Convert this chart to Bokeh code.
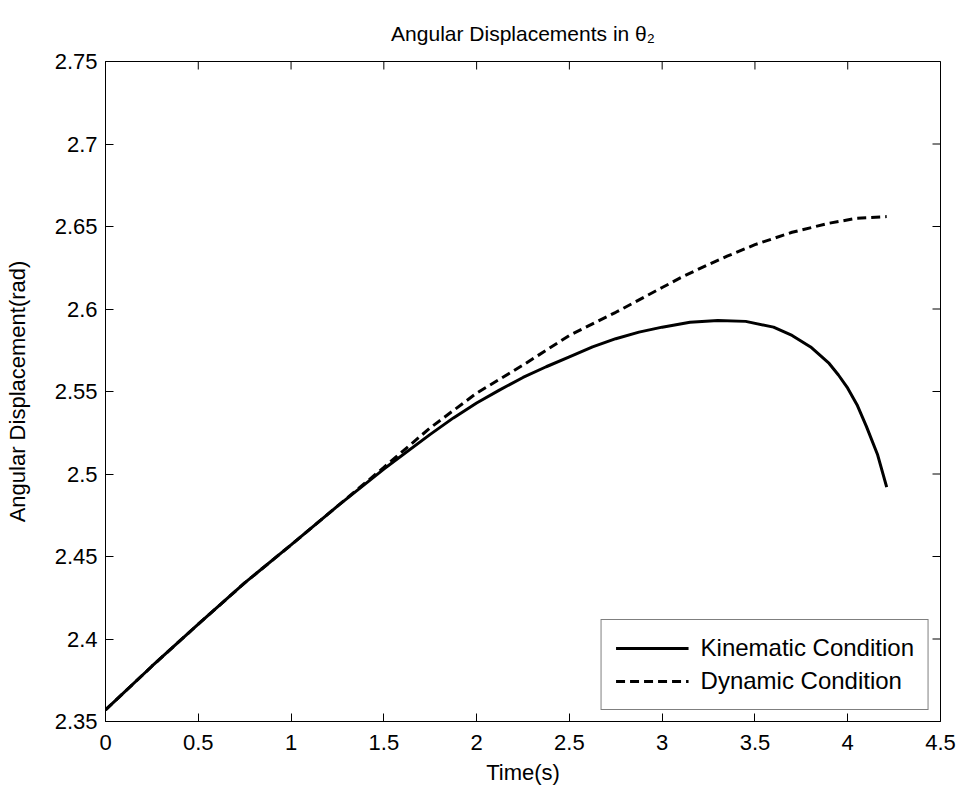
import math
from bokeh.plotting import figure
from bokeh.models import Range1d, FixedTicker, Legend, LegendItem
from bokeh.embed import file_html
from bokeh.resources import INLINE

# ---- data ----
t_kin = [0.0, 0.25, 0.5, 0.75, 1.0, 1.25, 1.5, 1.75, 1.875, 2.0, 2.125, 2.25, 2.375, 2.5, 2.625,
         2.75, 2.875, 3.0, 3.15, 3.3, 3.45, 3.6, 3.7, 3.8, 3.9, 3.95, 4.0, 4.05, 4.1, 4.16, 4.21]
kin = [2.357, 2.3835, 2.409, 2.434, 2.457, 2.4805, 2.503, 2.524, 2.534, 2.543, 2.551, 2.5585, 2.565,
       2.571, 2.577, 2.582, 2.586, 2.589, 2.592, 2.593, 2.5925, 2.589, 2.584, 2.577, 2.567, 2.560,
       2.552, 2.542, 2.529, 2.512, 2.492]

t_dyn = [0.0, 0.25, 0.5, 0.75, 1.0, 1.25, 1.5, 1.75, 2.0, 2.25, 2.5, 2.75, 3.0, 3.1,
         3.25, 3.35, 3.5, 3.7, 3.9, 4.05, 4.21]
dyn = [2.357, 2.3835, 2.409, 2.434, 2.457, 2.4805, 2.504, 2.528, 2.549, 2.566, 2.584, 2.598, 2.613,
       2.619, 2.627, 2.632, 2.639, 2.6465, 2.652, 2.655, 2.656]

x_ticks = [0, 0.5, 1, 1.5, 2, 2.5, 3, 3.5, 4, 4.5]
x_tick_labels = ["0", "0.5", "1", "1.5", "2", "2.5", "3", "3.5", "4", "4.5"]
y_ticks = [2.35, 2.4, 2.45, 2.5, 2.55, 2.6, 2.65, 2.7, 2.75]
y_tick_labels = ["2.35", "2.4", "2.45", "2.5", "2.55", "2.6", "2.65", "2.7", "2.75"]

title_text = "Angular Displacements in \u03b8\u2082"
x_label = "Time(s)"
y_label = "Angular Displacement(rad)"
series_names = ["Kinematic Condition", "Dynamic Condition"]

FONT = "Liberation Sans"
FS = "22px"
X0, X1 = 0, 4.5
Y0, Y1 = 2.35, 2.75

p = figure(width=962, height=794, output_backend="svg", toolbar_location=None,
           x_range=Range1d(X0, X1), y_range=Range1d(Y0, Y1),
           min_border_left=105, min_border_right=22, min_border_top=61, min_border_bottom=73,
           title=title_text)
p.background_fill_color = "white"
p.border_fill_color = "white"
p.outline_line_color = "black"
p.outline_line_width = 1
p.xgrid.visible = False
p.ygrid.visible = False

p.title.align = "center"
p.title.text_font = FONT
p.title.text_font_size = "21px"
p.title.text_font_style = "normal"
p.title.text_color = "black"
p.title.standoff = 34

for ax, ticks, labels in ((p.xaxis[0], x_ticks, x_tick_labels), (p.yaxis[0], y_ticks, y_tick_labels)):
    ax.ticker = FixedTicker(ticks=ticks)
    ax.major_label_overrides = {t: l for t, l in zip(ticks, labels)}
    ax.major_tick_in = 8
    ax.major_tick_out = 0
    ax.minor_tick_line_color = None
    ax.axis_line_color = "black"
    ax.major_tick_line_color = "black"
    ax.major_label_text_font = FONT
    ax.major_label_text_font_size = FS
    ax.major_label_text_color = "black"
    ax.axis_label_text_font = FONT
    ax.axis_label_text_font_size = FS
    ax.axis_label_text_font_style = "normal"
    ax.axis_label_text_color = "black"

p.xaxis[0].axis_label = x_label
p.yaxis[0].axis_label = y_label
p.xaxis[0].major_label_standoff = 13
p.xaxis[0].axis_label_standoff = 7
p.yaxis[0].major_label_standoff = 8
p.yaxis[0].axis_label_standoff = 22

# mirrored ticks on the top and right edges (the outer half is clipped by the frame)
p.scatter(x_ticks, [Y1] * len(x_ticks), marker="dash", angle=math.pi / 2, size=16,
          line_color="black", line_width=1)
p.scatter([X1] * len(y_ticks), y_ticks, marker="dash", size=16,
          line_color="black", line_width=1)

r1 = p.line(t_kin, kin, line_color="black", line_width=3)
r2 = p.line(t_dyn, dyn, line_color="black", line_width=3, line_dash="9 5")

legend = Legend(items=[LegendItem(label=series_names[0], renderers=[r1]),
                       LegendItem(label=series_names[1], renderers=[r2])],
                location="bottom_right")
legend.margin = 11
legend.padding = 14
legend.spacing = 5
legend.glyph_width = 73
legend.glyph_height = 24
legend.label_height = 24
legend.label_standoff = 12
legend.label_text_font = FONT
legend.label_text_font_size = "24px"
legend.label_text_color = "black"
legend.border_line_color = "black"
legend.border_line_width = 1
legend.background_fill_alpha = 1.0
p.add_layout(legend, "center")

open("out.html", "w").write(file_html(p, INLINE))
